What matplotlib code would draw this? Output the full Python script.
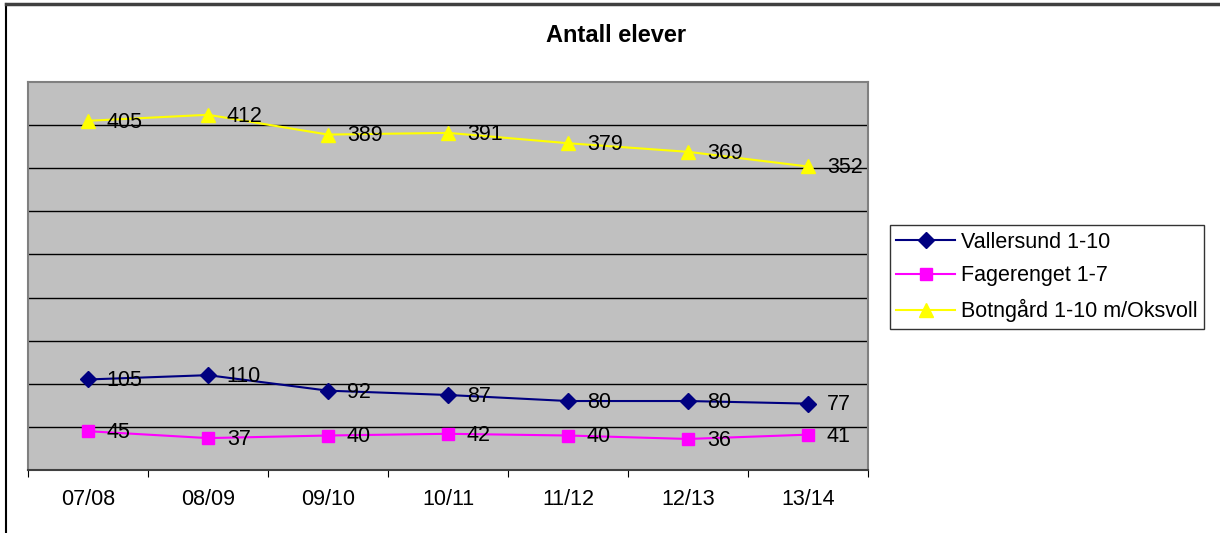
import matplotlib.pyplot as plt
from matplotlib.lines import Line2D

plt.rcParams['font.family'] = ['Liberation Sans', 'DejaVu Sans']

years = ['07/08', '08/09', '09/10', '10/11', '11/12', '12/13', '13/14']
vallersund = [105, 110, 92, 87, 80, 80, 77]
fagerenget = [45, 37, 40, 42, 40, 36, 41]
botngard = [405, 412, 389, 391, 379, 369, 352]

series = [
    ('Vallersund 1-10', vallersund, '#000080', 'D', 8),
    ('Fagerenget 1-7', fagerenget, '#FF00FF', 's', 8.5),
    ('Botngård 1-10 m/Oksvoll', botngard, '#FFFF00', '^', 10),
]

fig = plt.figure(figsize=(12.2, 5.33), dpi=100)
ax = fig.add_axes([28 / 1220, 1 - 470 / 533, 840 / 1220, 388 / 533])
ax.set_facecolor('#C0C0C0')

x = list(range(len(years)))
for val in range(50, 450, 50):
    ax.axhline(val, color='black', lw=1, zorder=1)

handles = []
for name, vals, col, mk, ms in series:
    ax.plot(x, vals, color=col, lw=1.5, marker=mk, ms=ms, zorder=3)
    for xi, v in zip(x, vals):
        ax.annotate(str(v), (xi, v), xytext=(13.5, -1), textcoords='offset points',
                    ha='left', va='center', fontsize=15.5, color='black', zorder=4)
    handles.append(Line2D([], [], color=col, lw=1.5, marker=mk, ms=ms, label=name))

ax.set_xlim(-0.5, len(years) - 0.5)
ax.set_ylim(0, 450)
ax.set_yticks([])
ax.set_xticks([i - 0.5 for i in range(len(years) + 1)], minor=False)
ax.set_xticklabels([])
ax.set_xticks(x, minor=True)
ax.set_xticklabels(years, minor=True, fontsize=15.5)
ax.tick_params(axis='x', which='major', direction='out', length=5, color='black')
ax.tick_params(axis='x', which='minor', length=0, pad=14)
for side in ['top', 'right', 'left']:
    ax.spines[side].set_color('#808080')
    ax.spines[side].set_linewidth(1.5)
ax.spines['bottom'].set_color('#404040')
ax.spines['bottom'].set_linewidth(1.5)

fig.text(616 / 1220, 1 - 35 / 533, 'Antall elever', ha='center', va='center',
         fontsize=17, fontweight='bold')

leg = fig.legend(handles=handles, loc='center left', bbox_to_anchor=(890 / 1220, 1 - 277 / 533),
                 fontsize=15.5, frameon=True, fancybox=False, edgecolor='black',
                 handlelength=2.7, borderpad=0.3, labelspacing=0.58, handletextpad=0.3,
                 borderaxespad=0)
leg.get_frame().set_linewidth(1)

# outer border (top and left visible)
fig.add_artist(Line2D([6 / 1220, 6 / 1220], [0, 1 - 4 / 533], color='black', lw=1.5,
                      transform=fig.transFigure))
fig.add_artist(Line2D([6 / 1220, 1], [1 - 4 / 533, 1 - 4 / 533], color='#404040', lw=2.5,
                      transform=fig.transFigure))

fig.savefig('out.png', dpi=100)
